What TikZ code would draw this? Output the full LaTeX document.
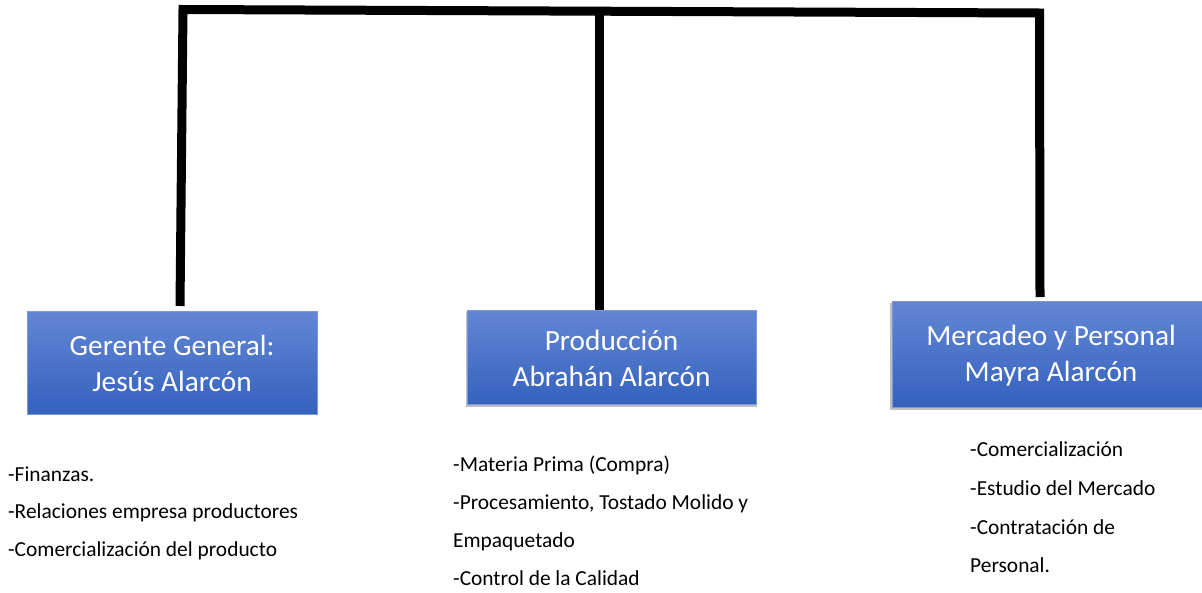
\documentclass[tikz,border=0pt]{standalone}
\usepackage{fontspec}
\setmainfont{Carlito}
\usetikzlibrary{shadows}
\definecolor{boxtop}{HTML}{6286D4}
\definecolor{boxbot}{HTML}{3562BE}
\definecolor{boxedge}{HTML}{7A98DA}
\tikzset{
  orgbox/.style={rectangle, top color=boxtop, bottom color=boxbot, draw=boxedge, line width=0.8pt, inner sep=0pt},
  shadowbox/.style={orgbox, drop shadow={shadow xshift=0pt, shadow yshift=-2.5pt, shadow scale=1.01, fill=black, opacity=0.25}},
  boxtext/.style={text=white, font=\fontsize{29.3}{36}\selectfont, anchor=base, inner sep=0pt},
  listtext/.style={text=black, font=\fontsize{21.4}{26}\selectfont, anchor=base west, inner sep=0pt},
  bar/.style={line width=9pt, line join=miter, line cap=butt, draw=black}
}
\begin{document}
\begin{tikzpicture}[x=1pt,y=-1pt]
\useasboundingbox (0,0) rectangle (1202,592);
% boxes
\node[orgbox, minimum width=290pt, minimum height=103pt] (gg) at (172,362.5) {};
\node[shadowbox, minimum width=289pt, minimum height=94pt] (pr) at (611.5,357) {};
\node[shadowbox, minimum width=318pt, minimum height=106pt] (mp) at (1051,354) {};
% box texts
\node[boxtext] (gg1) at (172,355.7) {Gerente General:};
\node[boxtext] (gg2) at (172,391.7) {Jesús Alarcón};
\node[boxtext] (pr1) at (611.5,350) {Producción};
\node[boxtext] (pr2) at (611.5,386) {Abrahán Alarcón};
\node[boxtext] (mp1) at (1051,345) {Mercadeo y Personal};
\node[boxtext] (mp2) at (1051,381.5) {Mayra Alarcón};
% connectors
\coordinate (tl) at (183,9.5);
\coordinate (tm) at (599,11);
\coordinate (tr) at (1039.5,13);
\coordinate (bl) at (180,306);
\coordinate (bm) at (599,310);
\coordinate (br) at (1040,297);
\draw[bar] (bl) -- (tl) -- (tr) -- (br);
\draw[bar] (tm) -- (bm);
% lists
\node[listtext] (l1) at (8,481) {-Finanzas.};
\node[listtext] (l2) at (8,518.5) {-Relaciones empresa productores};
\node[listtext] (l3) at (8,556.5) {-Comercialización del producto};
\node[listtext] (m1) at (453,471.5) {-Materia Prima (Compra)};
\node[listtext] (m2) at (453,509.5) {-Procesamiento, Tostado Molido y};
\node[listtext] (m3) at (453,547.5) {Empaquetado};
\node[listtext] (m4) at (453,585.5) {-Control de la Calidad};
\node[listtext] (r1) at (970,456.5) {-Comercialización};
\node[listtext] (r2) at (970,495.5) {-Estudio del Mercado};
\node[listtext] (r3) at (970,534) {-Contratación de};
\node[listtext] (r4) at (970,572.5) {Personal.};
\end{tikzpicture}
\end{document}
